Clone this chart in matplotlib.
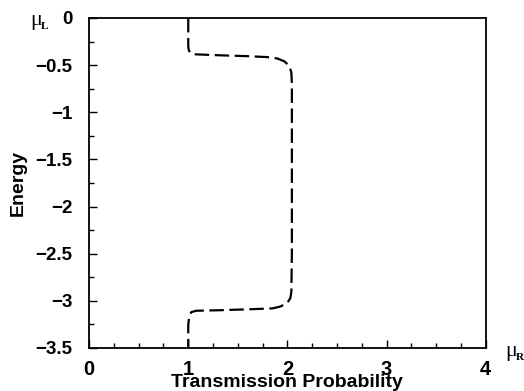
#!/usr/bin/env python3

import matplotlib
matplotlib.use("Agg")
import matplotlib.pyplot as plt
from matplotlib.ticker import MultipleLocator

# transmission probability vs energy
trans = [1.0, 1.0, 1.005, 1.02, 1.06, 1.3, 1.6, 1.8, 1.9, 1.97, 2.02, 2.04,
         2.045, 2.045, 2.045, 2.04, 2.03, 2.0, 1.93, 1.85, 1.6, 1.3, 1.08,
         1.03, 1.01, 1.0, 1.0]
energy = [0.0, -0.30, -0.34, -0.37, -0.385, -0.395, -0.405, -0.415, -0.43,
          -0.46, -0.51, -0.58, -0.7, -1.5, -2.5, -2.9, -2.97, -3.02, -3.06,
          -3.08, -3.09, -3.10, -3.105, -3.12, -3.17, -3.25, -3.5]

xticks = [0, 1, 2, 3, 4]
yticks = [0, -0.5, -1, -1.5, -2, -2.5, -3, -3.5]
ytick_labels = ["0", "\u22120.5", "\u22121", "\u22121.5", "\u22122",
                "\u22122.5", "\u22123", "\u22123.5"]

plt.rcParams['font.family'] = ['Liberation Sans', 'DejaVu Sans']

fig = plt.figure(figsize=(5.24, 3.91), dpi=100)
ax = fig.add_axes([0.170, 0.110, 0.757, 0.844])

ax.plot(trans, energy, color="black", lw=1.6, dashes=(6.5, 2.5))

ax.set_xlim(0, 4)
ax.set_ylim(-3.5, 0)
ax.set_xticks(xticks)
ax.set_xticklabels([str(t) for t in xticks], fontsize=14.5, fontweight="bold")
ax.set_yticks(yticks)
ax.set_yticklabels(ytick_labels, fontsize=13.5, fontweight="bold")
ax.xaxis.set_minor_locator(MultipleLocator(0.25))
ax.yaxis.set_minor_locator(MultipleLocator(0.25))
ax.tick_params(which="both", direction="in", top=False, right=False, width=1.0)
ax.tick_params(which="major", length=6)
ax.tick_params(which="minor", length=3.5)
ax.tick_params(axis="x", pad=9)
ax.tick_params(axis="y", pad=12)
for s in ax.spines.values():
    s.set_linewidth(1.3)

ax.set_xlabel("Transmission Probability", fontsize=14, fontweight="bold",
              labelpad=-4)
ax.set_ylabel("Energy", fontsize=14, fontweight="bold", labelpad=6)

fig.text(0.057, 0.936, "\u03bc", fontsize=16, family="Liberation Serif",
         va="baseline", ha="left")
fig.text(0.078, 0.925, "L", fontsize=8, family="Liberation Serif",
         fontweight="bold", va="baseline", ha="left")
fig.text(0.964, 0.0895, "\u03bc", fontsize=16, family="Liberation Serif",
         va="baseline", ha="left")
fig.text(0.984, 0.079, "R", fontsize=8, family="Liberation Serif",
         fontweight="bold", va="baseline", ha="left")

fig.savefig("out.png", dpi=100)
plt.close()
